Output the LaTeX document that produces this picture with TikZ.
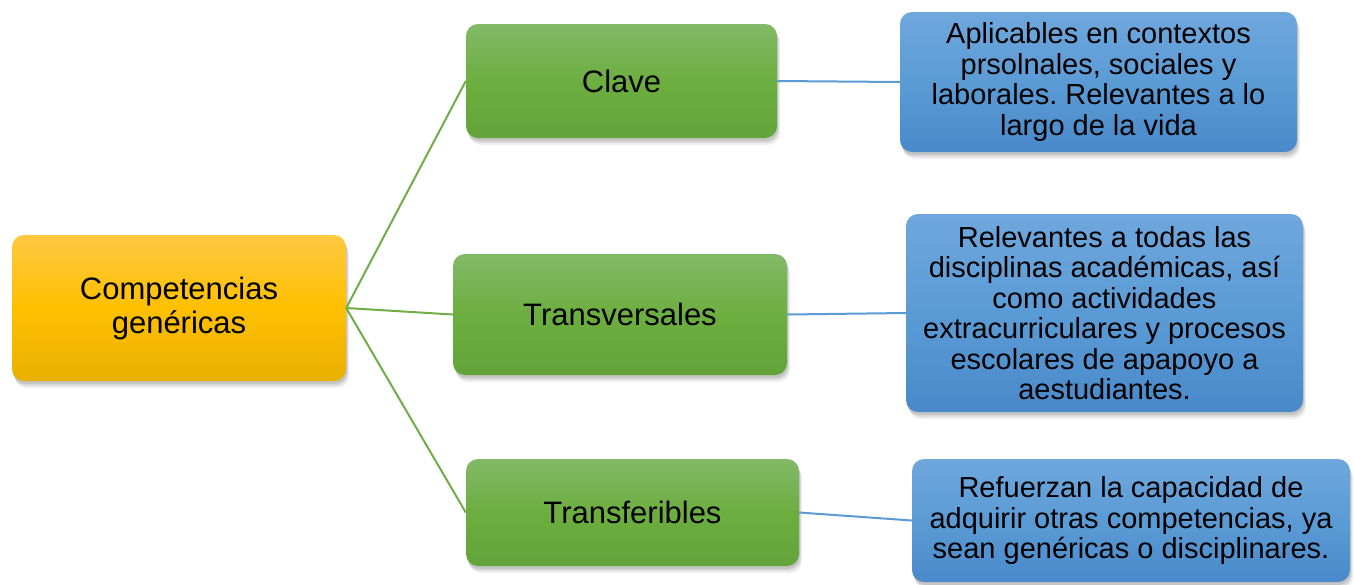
\documentclass[tikz,border=0pt]{standalone}
\usepackage{fontspec}
\setmainfont{Liberation Sans}
\frenchspacing
\usetikzlibrary{shadows}
\definecolor{yTop}{HTML}{FFC842}
\definecolor{yMid}{HTML}{FFC000}
\definecolor{yBot}{HTML}{E8B000}
\definecolor{gTop}{HTML}{82B967}
\definecolor{gMid}{HTML}{6DAE40}
\definecolor{gBot}{HTML}{62A43A}
\definecolor{bTop}{HTML}{6FA7DD}
\definecolor{bMid}{HTML}{5B9BD5}
\definecolor{bBot}{HTML}{4A89CA}
\definecolor{gLine}{HTML}{70AD47}
\definecolor{bLine}{HTML}{5B9BD5}
\begin{document}
\begin{tikzpicture}[x=1pt,y=-1pt,
  % soft shadow built from a few stacked translucent copies
  box/.style={rounded corners=12pt, align=center, inner sep=0pt,
    drop shadow={opacity=0.12, shadow xshift=3pt, shadow yshift=-7pt},
    drop shadow={opacity=0.18, shadow xshift=2pt, shadow yshift=-5pt},
    drop shadow={opacity=0.25, shadow xshift=1pt, shadow yshift=-3pt}},
  rootbox/.style={box, top color=yTop, bottom color=yBot, middle color=yMid,
    font=\fontsize{31}{34}\selectfont},
  kindbox/.style={box, top color=gTop, bottom color=gBot, middle color=gMid,
    font=\fontsize{31}{34}\selectfont},
  notebox/.style={box, top color=bTop, bottom color=bBot, middle color=bMid,
    font=\fontsize{29}{30.5}\selectfont},
  glink/.style={draw=gLine, line width=2pt},
  blink/.style={draw=bLine, line width=2pt}]
\useasboundingbox (0,0) rectangle (1354,584);

% root
\node[rootbox, minimum width=334pt, minimum height=146pt] (root) at (179,308)
  {Competencias\\genéricas};

% kinds of competences
\node[kindbox, minimum width=311pt, minimum height=114pt] (clave) at (621.5,81) {Clave};
\node[kindbox, minimum width=334pt, minimum height=121pt] (trans) at (620,314.5) {Transversales};
\node[kindbox, minimum width=333pt, minimum height=107pt] (transf) at (632.5,512.5) {Transferibles};

% descriptions
\node[notebox, minimum width=397pt, minimum height=140pt] (d1) at (1098.5,82)
  {Aplicables en contextos\\prsolnales, sociales y\\laborales. Relevantes a lo\\largo de la vida};
\node[notebox, minimum width=397pt, minimum height=198pt] (d2) at (1104.5,313)
  {Relevantes a todas las\\disciplinas académicas, así\\como actividades\\extracurriculares y procesos\\escolares de apapoyo a\\aestudiantes.};
\node[notebox, minimum width=438pt, minimum height=123pt] (d3) at (1131,520.5)
  {Refuerzan la capacidad de\\adquirir otras competencias, ya\\sean genéricas o disciplinares.};

% connectors
\draw[glink] (root.east) -- (clave.west);
\draw[glink] (root.east) -- (trans.west);
\draw[glink] (root.east) -- (transf.west);
\draw[blink] (clave.east) -- (d1.west);
\draw[blink] (trans.east) -- (d2.west);
\draw[blink] (transf.east) -- (d3.west);
\end{tikzpicture}
\end{document}
